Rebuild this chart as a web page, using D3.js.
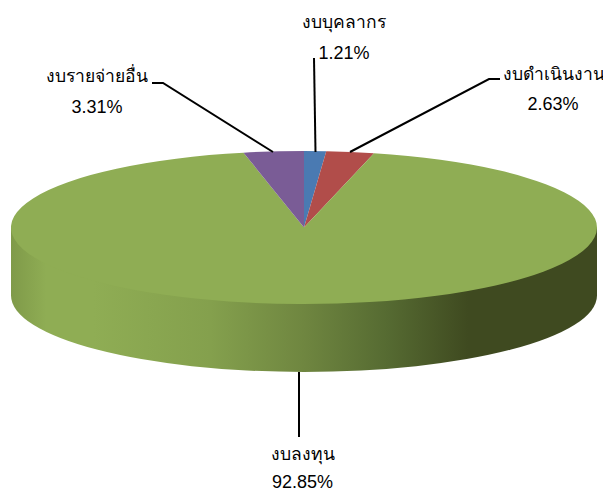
<!DOCTYPE html>
<html><head><meta charset="utf-8">
<script src="https://cdn.jsdelivr.net/npm/d3@7"></script>
<style>html,body{margin:0;background:#fff}svg{display:block}text{fill:#000;text-anchor:middle}.c{font-family:"Noto Sans","Open Sans",sans-serif;font-size:17.5px}.v{font-family:"Liberation Sans",sans-serif;font-size:18px}</style>
</head><body><script>
const categories = ["งบบุคลากร","งบดำเนินงาน","งบลงทุน","งบรายจ่ายอื่น"];
const values = [1.21,2.63,92.85,3.31];
const valueLabels = ["1.21%","2.63%","92.85%","3.31%"];
const colors = ["#4a7ab2","#b14d4a","#8fad54","#7a5c96"];
const W=603,H=492,cx=304,cy=227.5,rx=293,ry=76.5,depth=68;
const labelPos=[[344,28,344,59],[553.5,80,553,110],[302.5,460,302.5,488],[97,82,97,113]];
const leaders=[[[314,58],[315.5,152]],[[350,152],[489,79],[500,79]],[[299,372],[299,437]],[[152,83],[163,83],[273,152]]];
const gradStops=[[0,"#7f9a49"],[0.06,"#8fad54"],[0.14,"#8fad54"],[0.34,"#84a04d"],[0.5,"#6f8640"],[0.64,"#566b32"],[0.78,"#3f4a20"],[1,"#3f4a20"]];
const svg=d3.select("body").append("svg").attr("width",W).attr("height",H);
const grad=svg.append("defs").append("linearGradient").attr("id","side").attr("gradientUnits","userSpaceOnUse")
 .attr("x1",cx-rx).attr("x2",cx+rx).attr("y1",0).attr("y2",0);
grad.selectAll("stop").data(gradStops).join("stop").attr("offset",d=>d[0]).attr("stop-color",d=>d[1]);
svg.append("path").attr("fill","url(#side)")
 .attr("d",`M${cx-rx},${cy}V${cy+depth}A${rx},${ry} 0 0 0 ${cx+rx},${cy+depth}V${cy}Z`);
const pie=d3.pie().sort(null).value(d=>d);
const arc=d3.arc().innerRadius(0).outerRadius(rx);
svg.append("g").attr("transform",`translate(${cx},${cy}) scale(1,${ry/rx})`)
 .selectAll("path").data(pie(values)).join("path").attr("d",arc).attr("fill",(d,i)=>colors[i]);
const line=d3.line();
svg.append("g").selectAll("path").data(leaders).join("path").attr("d",line).attr("fill","none").attr("stroke","#000").attr("stroke-width",2);
const t=svg.append("g");
categories.forEach((c,i)=>{
 const p=labelPos[i];
 t.append("text").attr("class","c").attr("x",p[0]).attr("y",p[1]).text(c);
 t.append("text").attr("class","v").attr("x",p[2]).attr("y",p[3]).text(valueLabels[i]);
});
</script></body></html>
